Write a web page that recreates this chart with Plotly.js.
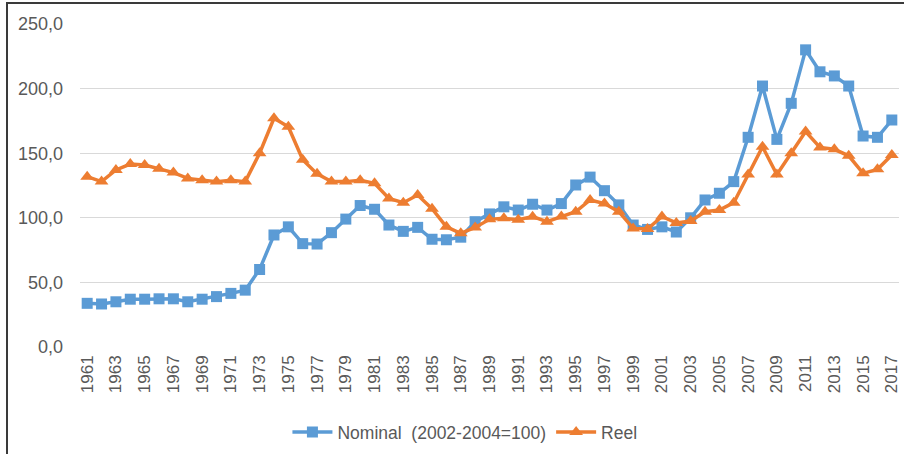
<!DOCTYPE html>
<html>
<head>
<meta charset="utf-8">
<script src="https://cdn.plot.ly/plotly-3.0.1.min.js"></script>
<style>
html,body{margin:0;padding:0;background:#fff;}
#wrap{position:relative;width:904px;height:454px;overflow:hidden;}
#chart{width:904px;height:454px;}
#frame{position:absolute;left:6px;top:2px;width:898px;height:460px;border-left:2px solid #3a3a3a;border-top:2px solid #3a3a3a;box-sizing:border-box;pointer-events:none;}
</style>
</head>
<body>
<div id="wrap"><div id="chart"></div><div id="frame"></div></div>
<script>
const years = [];
for (let y = 1961; y <= 2017; y++) years.push(y);

const nominal = [33.8,33.3,35,37,37,37.3,37.3,35,37,39,41.5,44,60,86.7,93,80,79.7,88.5,99,109.5,106.6,94.4,89.5,92.6,83.4,83,85,97,103,108.5,106,110.5,106,111,125.4,131.5,121,110,94.4,91,93,89,100,113.8,119,128,162.3,202,160.7,188.6,230,213,209.8,202,163.3,162.3,175.7];
const reel = [131.8,128,137,141.6,140.9,138,135,130.5,129,128,129,128,150,177,170.5,145,134,128,128,129,126.7,115,111.7,117.6,107,93,88,92.5,98.8,99.6,98.5,100.9,97,101,104.7,113.8,111,104.7,91.8,91.3,101,96,97.5,104.7,106,111.7,133.5,155,133.5,150,166.7,154.5,153,148,134.4,137.5,148.6];

const nomName = 'Nominal  (2002-2004=100)';
const reelName = 'Reel';

const blue = '#5B9BD5', orange = '#ED7D31';
const font = 'Liberation Sans, Arial, sans-serif';

const traces = [
  {x: years, y: nominal, name: nomName, type: 'scatter', mode: 'lines+markers',
   line: {color: blue, width: 3.5}, marker: {symbol: 'square', size: 11, color: blue}},
  {x: years, y: reel, name: reelName, type: 'scatter', mode: 'lines+markers',
   line: {color: orange, width: 3.5}, marker: {symbol: 'triangle-up', size: 12, color: orange}}
];

const layout = {
  width: 904, height: 454,
  margin: {l: 80, r: 5, t: 24, b: 107},
  paper_bgcolor: '#fff', plot_bgcolor: '#fff',
  separators: ', ',
  font: {family: font, color: '#595959', size: 17},
  showlegend: true,
  legend: {orientation: 'h', xref: 'paper', x: 0.47, xanchor: 'center', yref: 'container', y: 0.048, yanchor: 'middle',
           font: {size: 17.5, color: '#595959'}, itemwidth: 40, tracegroupgap: 0},
  xaxis: {range: [1960.5, 2017.5], tickmode: 'linear', tick0: 1961, dtick: 2, tickangle: -90,
          showgrid: false, zeroline: false, showline: false, ticks: '', ticklabelstandoff: 4,
          tickfont: {size: 17, color: '#595959'}, fixedrange: true},
  yaxis: {range: [0, 250], tickmode: 'linear', tick0: 0, dtick: 50, tickformat: '.1f',
          showgrid: true, gridcolor: '#d9d9d9', gridwidth: 1, zeroline: false, showline: false, ticks: '',
          ticklabelstandoff: 16, tickfont: {size: 18, color: '#595959'}, fixedrange: true}
};

Plotly.newPlot('chart', traces, layout, {displayModeBar: false, staticPlot: true});
</script>
</body>
</html>
